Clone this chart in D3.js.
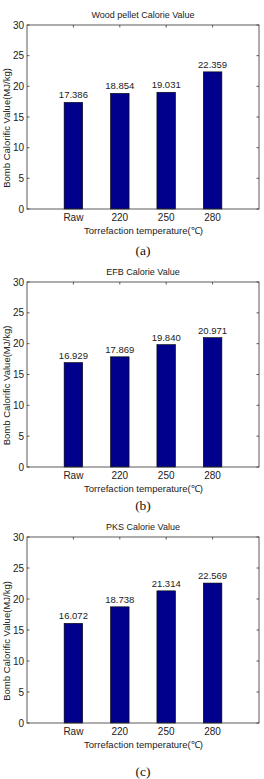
<!DOCTYPE html>
<html>
<head>
<meta charset="utf-8">
<script src="https://cdn.jsdelivr.net/npm/d3@7"></script>
<style>
  body { margin: 0; background: #fff; }
  svg { display: block; }
  .tick-lbl { font-family: "Liberation Sans Narrow", "Liberation Sans", Arial, sans-serif; font-size: 10px; fill: #222; }
  .title { font-family: "Liberation Sans Narrow", "Liberation Sans", Arial, sans-serif; font-size: 9px; fill: #222; }
  .xlabel { font-family: "Liberation Sans Narrow", "Liberation Sans", Arial, sans-serif; font-size: 9.5px; fill: #222; }
  .ylabel { font-family: "Liberation Sans", Arial, sans-serif; font-size: 9.5px; fill: #222; }
  .val { font-family: "Liberation Sans", Arial, sans-serif; font-size: 9.5px; fill: #222; }
  .sub { font-family: "Liberation Serif", "Times New Roman", serif; font-size: 13.5px; fill: #111; }
</style>
</head>
<body>
<div id="root"></div>
<script>
// data
var categories = ["Raw", "220", "250", "280"];
var woodValues = [17.386, 18.854, 19.031, 22.359];
var efbValues = [16.929, 17.869, 19.840, 20.971];
var pksValues = [16.072, 18.738, 21.314, 22.569];
var titles = ["Wood pellet Calorie Value", "EFB Calorie Value", "PKS Calorie Value"];
var subLabels = ["(a)", "(b)", "(c)"];
var yTicks = [0, 5, 10, 15, 20, 25, 30];
var xTitle = "Torrefaction temperature(\u2103)";
var yTitle = "Bomb Calorific Value(MJ/kg)";

var width = 264, height = 779;
var svg = d3.select("#root").append("svg")
  .attr("width", width)
  .attr("height", height);

// layout per panel: axes top/bottom and caption baseline
var panels = [
  { values: woodValues, top: 25, bottom: 209, sub: 255 },
  { values: efbValues, top: 282, bottom: 467, sub: 510 },
  { values: pksValues, top: 537, bottom: 723, sub: 776 }
];

var left = 27, right = 259;
var x = d3.scaleLinear().domain([0, categories.length + 1]).range([left, right]);
var barW = 0.4;

panels.forEach(function(p, i){
  var y = d3.scaleLinear().domain([0, 30]).range([p.bottom, p.top]);
  var g = svg.append("g");

  // bars
  g.selectAll(".bar")
    .data(p.values)
    .enter()
    .append("rect")
    .attr("class", "bar")
    .attr("x", function(d, j){ return x(j + 1 - barW / 2); })
    .attr("width", x(barW) - x(0))
    .attr("y", function(d){ return y(d); })
    .attr("height", function(d){ return y(0) - y(d); })
    .style("fill", "#00008c")
    .style("stroke", "#000")
    .style("stroke-width", 0.6);

  // value labels
  g.selectAll(".val")
    .data(p.values)
    .enter()
    .append("text")
    .attr("class", "val")
    .attr("x", function(d, j){ return x(j + 1); })
    .attr("y", function(d){ return y(d) - 4; })
    .attr("text-anchor", "middle")
    .text(function(d){ return d.toFixed(3); });

  // box
  g.append("rect")
    .attr("x", left).attr("y", p.top)
    .attr("width", right - left).attr("height", p.bottom - p.top)
    .style("fill", "none")
    .style("stroke", "#333")
    .style("stroke-width", 0.8);

  // y ticks, inward on both sides
  yTicks.forEach(function(t){
    g.append("line")
      .attr("x1", left).attr("x2", left + 2.5)
      .attr("y1", y(t)).attr("y2", y(t))
      .style("stroke", "#333").style("stroke-width", 0.8);
    g.append("line")
      .attr("x1", right).attr("x2", right - 2.5)
      .attr("y1", y(t)).attr("y2", y(t))
      .style("stroke", "#333").style("stroke-width", 0.8);
    g.append("text")
      .attr("class", "tick-lbl")
      .attr("x", left - 3)
      .attr("y", y(t) + 3.5)
      .attr("text-anchor", "end")
      .text(t);
  });

  // x ticks
  categories.forEach(function(c, j){
    g.append("line")
      .attr("x1", x(j + 1)).attr("x2", x(j + 1))
      .attr("y1", p.top).attr("y2", p.top + 2.5)
      .style("stroke", "#333").style("stroke-width", 0.8);
    g.append("text")
      .attr("class", "tick-lbl")
      .attr("x", x(j + 1))
      .attr("y", p.bottom + 12)
      .attr("text-anchor", "middle")
      .text(c);
  });

  g.append("text")
    .attr("class", "title")
    .attr("x", (left + right) / 2)
    .attr("y", p.top - 7)
    .attr("text-anchor", "middle")
    .text(titles[i]);

  g.append("text")
    .attr("class", "xlabel")
    .attr("x", (left + right) / 2 + 0.5)
    .attr("y", p.bottom + 24.5)
    .attr("text-anchor", "middle")
    .text(xTitle);

  g.append("text")
    .attr("class", "ylabel")
    .attr("transform", "translate(10," + ((p.top + p.bottom) / 2 + 11) + ") rotate(-90)")
    .attr("text-anchor", "middle")
    .text(yTitle);

  g.append("text")
    .attr("class", "sub")
    .attr("x", (left + right) / 2)
    .attr("y", p.sub)
    .attr("text-anchor", "middle")
    .text(subLabels[i]);
});
</script>
</body>
</html>
